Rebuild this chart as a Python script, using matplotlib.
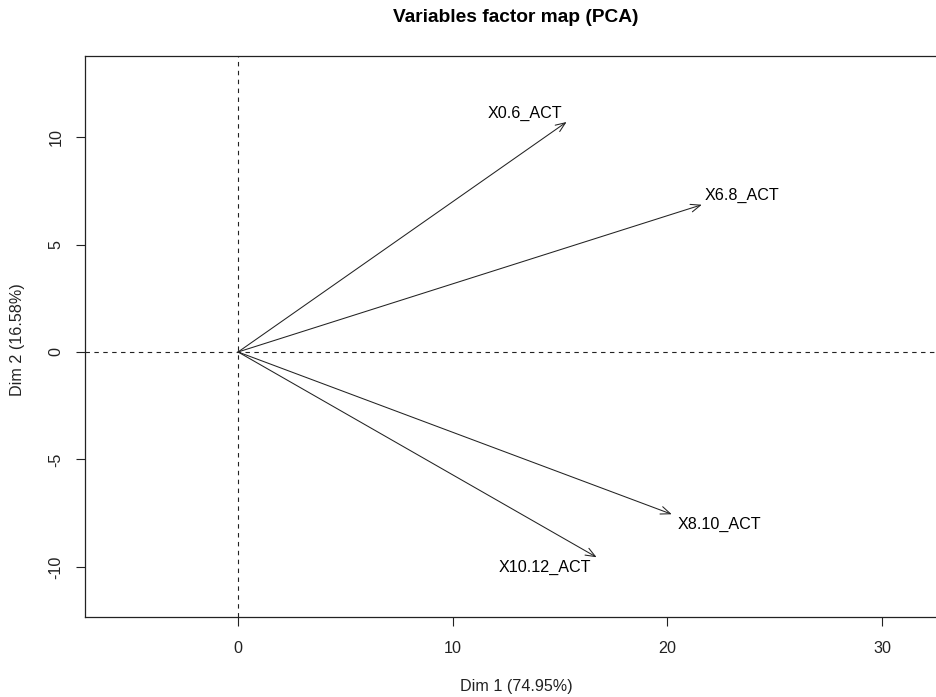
import matplotlib
matplotlib.use("Agg")
import matplotlib.pyplot as plt

# ---- data ----
variables = ["X0.6_ACT", "X6.8_ACT", "X8.10_ACT", "X10.12_ACT"]
dim1 = [15.3, 21.6, 20.2, 16.7]
dim2 = [10.7, 6.85, -7.55, -9.55]
x_ticks = [0, 10, 20, 30]
y_ticks = [-10, -5, 0, 5, 10]
title = "Variables factor map (PCA)"
xlab = "Dim 1 (74.95%)"
ylab = "Dim 2 (16.58%)"

# ---- style ----
plt.rcParams['font.family'] = ['Liberation Sans', 'DejaVu Sans']
plt.rcParams['axes.unicode_minus'] = False
FS = 11.6
# label offsets in points and alignments (style only)
label_style = [
    dict(off=(-30, 6), ha="center", va="center"),
    dict(off=(2, 7), ha="left", va="center"),
    dict(off=(4, -7), ha="left", va="center"),
    dict(off=(-4, -7), ha="right", va="center"),
]

W, H = 936, 697
fig = plt.figure(figsize=(W / 100, H / 100), dpi=100)
ax = fig.add_axes([85 / W, 80 / H, 862 / W, 561 / H])
ax.set_xlim(-7.13, 33.02)
ax.set_ylim(-12.33, 13.77)

ax.axhline(0, color="#222222", lw=0.8, ls=(0, (4, 4)), zorder=1)
ax.axvline(0, color="#222222", lw=0.8, ls=(0, (4, 4)), zorder=1)

for name, x, y, st in zip(variables, dim1, dim2, label_style):
    ax.annotate("", xy=(x, y), xytext=(0, 0),
                arrowprops=dict(arrowstyle="->,head_length=0.5,head_width=0.2",
                                color="#222222", lw=0.75, shrinkA=0, shrinkB=0,
                                mutation_scale=14))
    ax.annotate(name, xy=(x, y), xytext=st["off"], textcoords="offset points",
                ha=st["ha"], va=st["va"], fontsize=FS, color="black")

ax.set_xticks(x_ticks)
ax.set_yticks(y_ticks)
ax.tick_params(axis="both", direction="out", length=6.5, width=0.8,
               labelsize=FS, color="#222222", labelcolor="#222222")
ax.tick_params(axis="x", pad=11)
ax.tick_params(axis="y", pad=9)
for lab in ax.get_yticklabels():
    lab.set_rotation(90)
    lab.set_va("center")
for s in ax.spines.values():
    s.set_linewidth(0.9)
    s.set_color("#222222")

fig.text(516 / W, 1 - 18 / H, title, ha="center", va="center",
         fontsize=13.8, fontweight="bold")
fig.text(516 / W, 1 - 686 / H, xlab, ha="center", va="center", fontsize=FS,
         color="#222222")
fig.text(18 / W, 1 - 340 / H, ylab, ha="center", va="center", fontsize=FS,
         rotation=90, color="#222222")

fig.savefig("out.png", dpi=100)
